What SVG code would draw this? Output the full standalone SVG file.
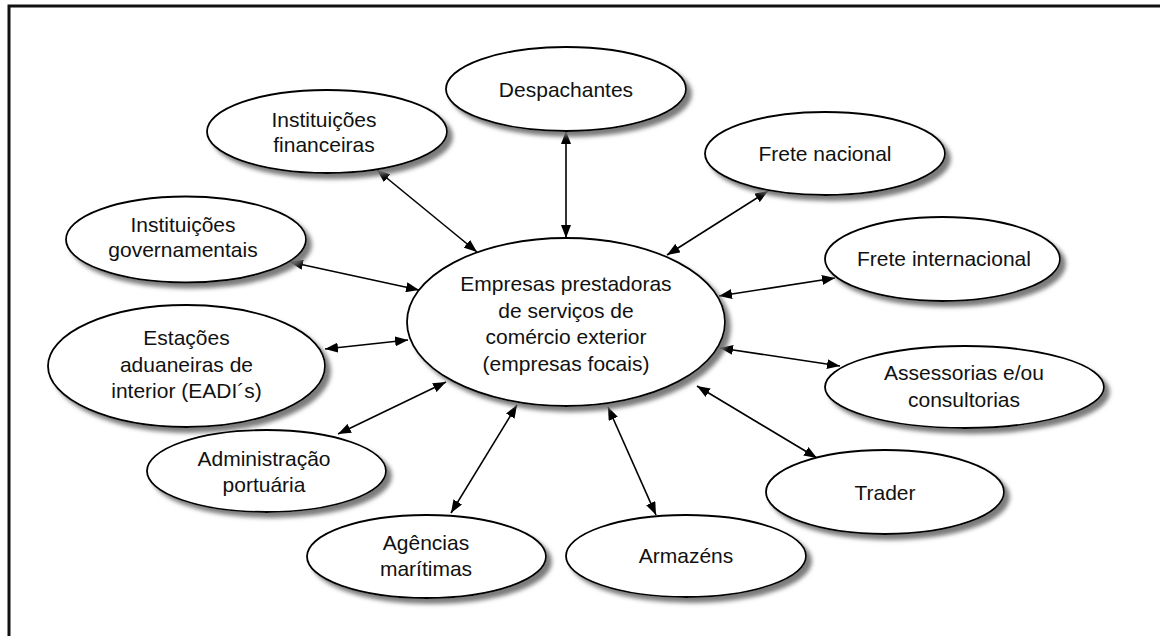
<svg xmlns="http://www.w3.org/2000/svg" width="1160" height="636" viewBox="0 0 1160 636">
  <style>
    .node ellipse { fill: #ffffff; stroke: #000000; stroke-width: 1.8; filter: url(#shadow); }
    .node text { font-family: "Liberation Sans", Arial, sans-serif; font-size: 21px; fill: #111111; text-anchor: middle; }
    .links line { stroke: #000000; stroke-width: 1.6; marker-start: url(#arrow); marker-end: url(#arrow); }
    .frame { fill: none; stroke: #111111; stroke-width: 3; }
  </style>
  <defs>
    <filter id="shadow" x="-20%" y="-20%" width="150%" height="150%">
      <feGaussianBlur in="SourceAlpha" stdDeviation="2.2" result="blur"/>
      <feOffset in="blur" dx="5" dy="5" result="off"/>
      <feFlood flood-color="#6e6e6e" flood-opacity="0.9"/>
      <feComposite in2="off" operator="in" result="shade"/>
      <feMerge>
        <feMergeNode in="shade"/>
        <feMergeNode in="SourceGraphic"/>
      </feMerge>
    </filter>
    <marker id="arrow" viewBox="0 0 13 10" refX="13" refY="5" markerWidth="13" markerHeight="10" markerUnits="userSpaceOnUse" orient="auto-start-reverse">
      <path d="M0,0 L13,5 L0,10 z" fill="#000000"/>
    </marker>
  </defs>

  <rect class="frame" x="9" y="6" width="1170" height="650"/>

  <g id="connectors" class="links">
    <line x1="566" y1="131" x2="566" y2="238"/>
    <line x1="377" y1="170" x2="477" y2="252"/>
    <line x1="768" y1="191" x2="667" y2="255"/>
    <line x1="290" y1="262" x2="419" y2="290"/>
    <line x1="835" y1="278" x2="719" y2="296"/>
    <line x1="325" y1="349" x2="408" y2="340"/>
    <line x1="840" y1="366" x2="720" y2="348"/>
    <line x1="338" y1="434" x2="446" y2="382"/>
    <line x1="451" y1="513" x2="517" y2="405"/>
    <line x1="608" y1="407" x2="656" y2="515"/>
    <line x1="697" y1="386" x2="817" y2="458"/>
  </g>

  <g id="node-center" class="node">
    <ellipse cx="566" cy="322" rx="159" ry="84"/>
    <text x="566" y="291">Empresas prestadoras</text>
    <text x="566" y="317.5">de serviços de</text>
    <text x="566" y="344">comércio exterior</text>
    <text x="566" y="370.5">(empresas focais)</text>
  </g>

  <g id="node-despachantes" class="node">
    <ellipse cx="566" cy="89" rx="120" ry="42"/>
    <text x="566" y="97">Despachantes</text>
  </g>

  <g id="node-financeiras" class="node">
    <ellipse cx="327" cy="131.5" rx="120" ry="41.5"/>
    <text x="324" y="127">Instituições</text>
    <text x="324" y="152">financeiras</text>
  </g>

  <g id="node-governamentais" class="node">
    <ellipse cx="186" cy="239.5" rx="120" ry="43"/>
    <text x="183" y="232">Instituições</text>
    <text x="183" y="257">governamentais</text>
  </g>

  <g id="node-eadi" class="node">
    <ellipse cx="186.5" cy="366" rx="138.5" ry="61"/>
    <text x="186.5" y="345">Estações</text>
    <text x="186.5" y="371.5">aduaneiras de</text>
    <text x="186.5" y="398">interior (EADI´s)</text>
  </g>

  <g id="node-administracao" class="node">
    <ellipse cx="266.5" cy="471" rx="119.5" ry="41"/>
    <text x="264" y="466">Administração</text>
    <text x="264" y="491.5">portuária</text>
  </g>

  <g id="node-agencias" class="node">
    <ellipse cx="426.5" cy="556.5" rx="119.5" ry="41.5"/>
    <text x="426" y="550">Agências</text>
    <text x="426" y="575.5">marítimas</text>
  </g>

  <g id="node-armazens" class="node">
    <ellipse cx="686" cy="556" rx="120" ry="41"/>
    <text x="686" y="563">Armazéns</text>
  </g>

  <g id="node-trader" class="node">
    <ellipse cx="885" cy="492" rx="119" ry="42"/>
    <text x="885" y="500">Trader</text>
  </g>

  <g id="node-assessorias" class="node">
    <ellipse cx="964.5" cy="387" rx="139.5" ry="41"/>
    <text x="964" y="380">Assessorias e/ou</text>
    <text x="964" y="406.5">consultorias</text>
  </g>

  <g id="node-frete-internacional" class="node">
    <ellipse cx="942.5" cy="259" rx="117.5" ry="42"/>
    <text x="944" y="266">Frete internacional</text>
  </g>

  <g id="node-frete-nacional" class="node">
    <ellipse cx="825" cy="153.5" rx="120" ry="41.5"/>
    <text x="825" y="160.5">Frete nacional</text>
  </g>
</svg>
